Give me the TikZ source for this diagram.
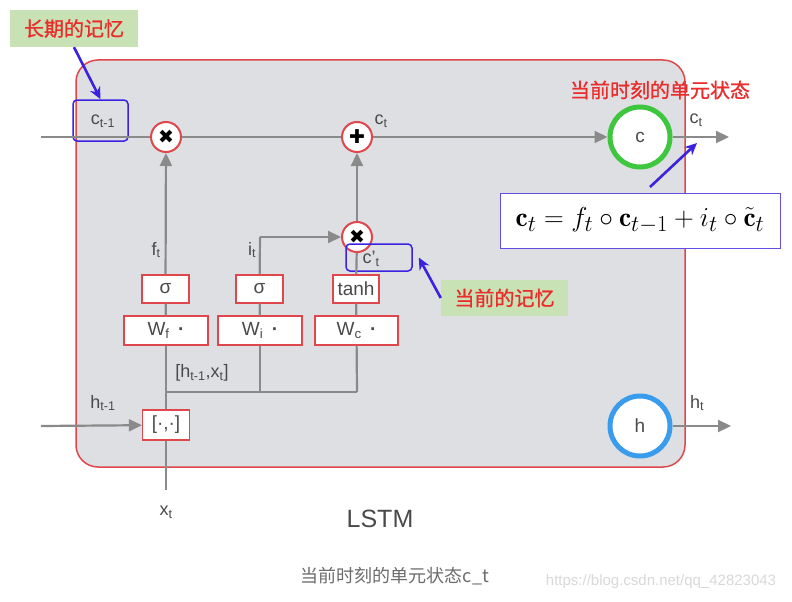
\documentclass[tikz,border=0pt]{standalone}
\usepackage{amsmath}
\usepackage{amssymb}
\usepackage{graphicx}
\usepackage{fontspec}
\setsansfont{Liberation Sans}
\newfontfamily\cjk{Noto Sans CJK SC}
\newfontfamily\cjkb{Noto Sans CJK SC}[FakeBold=1]
\newfontfamily\symb{DejaVu Sans}
\usepackage{tikz}
\usetikzlibrary{arrows.meta}
\definecolor{cellgray}{HTML}{DEDFE3}
\definecolor{cellred}{HTML}{E0474C}
\definecolor{linegray}{HTML}{8A8A8A}
\definecolor{textgray}{HTML}{4A4A4A}
\definecolor{notegreen}{HTML}{C8E2B6}
\definecolor{notered}{HTML}{EC2B2B}
\definecolor{pointblue}{HTML}{3A22E0}
\definecolor{cgreen}{HTML}{3EC63E}
\definecolor{hblue}{HTML}{3A9CEC}
\tikzstyle{txt}=[text=textgray, font=\sffamily\fontsize{18}{20}\selectfont, inner sep=0pt]
\tikzstyle{gatebox}=[draw=cellred, fill=white, line width=1.2pt, minimum width=47pt, minimum height=28pt, inner sep=0pt, text=textgray, font=\sffamily\fontsize{19}{21}\selectfont]
\tikzstyle{wbox}=[gatebox, minimum width=84pt, minimum height=29pt]
\tikzstyle{op}=[circle, draw=cellred, fill=white, line width=2pt, minimum size=30pt, inner sep=0pt, font=\symb\fontsize{19}{19}\selectfont]
\tikzstyle{state}=[circle, fill=white, line width=5pt, minimum size=60pt, inner sep=0pt, text=textgray, font=\sffamily\fontsize{19}{21}\selectfont]
\tikzstyle{wire}=[draw=linegray, line width=2.2pt]
\tikzstyle{arrow}=[draw=linegray, line width=2.2pt, -{Triangle[length=13pt,width=12pt]}]
\tikzstyle{note}=[fill=notegreen, text=notered, font=\cjkb\fontsize{20}{24}\selectfont, inner sep=0pt]
\tikzstyle{markbox}=[draw=pointblue, line width=1.5pt, rounded corners=4pt, inner sep=0pt]
\tikzstyle{pointer}=[draw=pointblue, line width=2.6pt, -{Stealth[length=12pt,width=11pt]}]

\begin{document}
\begin{tikzpicture}[x=1pt,y=-1pt]
		   \useasboundingbox [fill=white] (0,0) rectangle (792,602);
		   \begin{scope}
			   % cell
			   \node (cell) at (380.5,263.5)[draw=cellred, fill=cellgray, line width=1.5pt, rounded corners=22pt, minimum width=609pt, minimum height=407pt] {};

			   % cell state line
			   \coordinate (cin) at (41,137);
			   \node (mul1) at (166,137)[op] {✖};
			   \node (add) at (357,137)[op] {✚};
			   \node (cnode) at (640,137)[state, draw=cgreen] {c};
			   \coordinate (cout) at (729,137);

			   % gates
			   \node (sigf) at (165.5,289)[gatebox] {σ};
			   \node (sigi) at (259.5,289)[gatebox] {σ};
			   \node (tanh) at (356,289)[gatebox, minimum width=46pt] {tanh};
			   \node (wf) at (166,330.5)[wbox] {W\textsubscript{f}\,\ \textbf{·}};
			   \node (wi) at (260,330.5)[wbox] {W\textsubscript{i}\,\ \textbf{·}};
			   \node (wc) at (356.5,330.5)[wbox, minimum width=83pt] {W\textsubscript{c}\,\ \textbf{·}};
			   \node (mul2) at (357,237)[op] {✖};
			   \node (cat) at (166,425)[gatebox, minimum height=30pt] {[·,·]};

			   \coordinate (xin) at (166,490);
			   \coordinate (hin) at (41,426);
			   \coordinate (j1) at (166,392);
			   \coordinate (j2) at (260,392);
			   \coordinate (j3) at (357,392);
			   \coordinate (ibend) at (260,237);

			   \node (hnode) at (640,426)[state, draw=hblue] {h};
			   \coordinate (hout) at (731,426);

			   % labels
			   \node (lcprev) at (103,121)[txt] {c\textsubscript{t-1}};
			   \node (lcadd) at (381,121)[txt] {c\textsubscript{t}};
			   \node (lcout) at (696,120)[txt] {c\textsubscript{t}};
			   \node (lft) at (156,250)[txt] {f\textsubscript{t}};
			   \node (lit) at (252,250)[txt] {i\textsubscript{t}};
			   \node (lcnew) at (371,259)[txt] {c'\textsubscript{t}};
			   \node (lhx) at (202,373)[txt] {[h\textsubscript{t-1},x\textsubscript{t}]};
			   \node (lhprev) at (103,403)[txt] {h\textsubscript{t-1}};
			   \node (lxt) at (166,512)[txt] {x\textsubscript{t}};
			   \node (lhout) at (697,403)[txt] {h\textsubscript{t}};
			   \node (lstm) at (380,519)[txt, font=\sffamily\fontsize{25}{28}\selectfont] {LSTM};

			   % notes
			   \node (cprevbox) at (100.5,120.5)[markbox, minimum width=55pt, minimum height=41pt] {};
			   \node (cnewbox) at (379,257.5)[markbox, minimum width=66pt, minimum height=27pt] {};
			   \node (mem1) at (74,28.5)[note, minimum width=128pt, minimum height=37pt] {长期的记忆};
			   \node (mem2) at (504.5,298)[note, minimum width=127pt, minimum height=36pt] {当前的记忆};
			   \node (state) at (660,90)[txt, text=notered, font=\cjkb\fontsize{20}{24}\selectfont] {当前时刻的单元状态};
			   \node (eq) at (640,220.5)[draw=pointblue!80!white, line width=1pt, fill=white, minimum width=280pt, minimum height=55pt, font=\fontsize{24.88}{30}\selectfont] {\scalebox{1.1}{$\mathbf{c}_t = f_t \circ \mathbf{c}_{t-1} + i_t \circ \tilde{\mathbf{c}}_t$}};
			   \coordinate (eqtip) at (650,187);
			   \coordinate (ctip) at (697,143);

			   % caption
			   \node (caption) at (395,576)[txt, text=gray!85!black, font=\cjk\fontsize{18}{20}\selectfont] {当前时刻的单元状态c\_t};
			   \node (wmark) at (661,582)[txt, text=gray!30, font=\sffamily\fontsize{15}{17}\selectfont] {https://blog.csdn.net/qq\_42823043};
		   \end{scope}
		   \begin{scope}
			   \path (cin) edge[wire] (mul1);
			   \path (mul1) edge[wire] (add);
			   \path (add) edge[arrow] (cnode);
			   \path (cnode) edge[arrow] (cout);

			   \path (xin) edge[wire] (cat);
			   \path (hin) edge[arrow] (cat);
			   \path (cat) edge[wire] (wf);
			   \path (wf) edge[wire] (sigf);
			   \path (sigf) edge[arrow] (mul1);

			   \path (j1) edge[wire] (j3);
			   \path (j2) edge[wire] (wi);
			   \path (j3) edge[wire] (wc);
			   \path (wi) edge[wire] (sigi);
			   \path (sigi) edge[wire] (ibend);
			   \path (ibend) edge[arrow] (mul2);
			   \path (wc) edge[wire] (tanh);
			   \path (tanh) edge[wire] (mul2);
			   \path (mul2) edge[arrow] (add);

			   \path (hnode) edge[arrow] (hout);

			   \path (mem1.south) edge[pointer] (cprevbox.north);
			   \path (eqtip) edge[pointer] (ctip);
			   \path (mem2.west) edge[pointer] ([xshift=6pt]cnewbox.east);
		   \end{scope}
	   \end{tikzpicture}
\end{document}
